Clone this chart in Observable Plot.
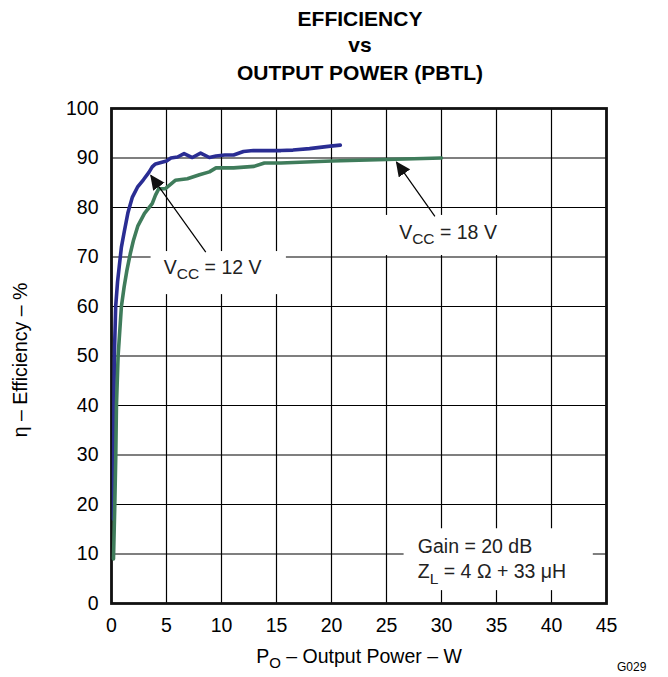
<!DOCTYPE html>
<html>
<head>
<meta charset="utf-8">
<script src="https://cdn.jsdelivr.net/npm/d3@7"></script>
<script src="https://cdn.jsdelivr.net/npm/@observablehq/plot@0.6"></script>
<style>
  html, body { margin: 0; padding: 0; background: white; }
  #wrap { position: relative; width: 668px; height: 677px; overflow: hidden; font-family: "Liberation Sans", Arial, sans-serif; color: black; }
  .t { position: absolute; white-space: nowrap; line-height: 1; }
  .title { left: 100px; width: 520px; text-align: center; font-weight: bold; font-size: 21px; }
  .sub { font-size: 15px; position: relative; top: 5px; }
</style>
</head>
<body>
<div id="wrap">
  <div class="t title" style="top:8px">EFFICIENCY</div>
  <div class="t title" style="top:34px">vs</div>
  <div class="t title" style="top:62px">OUTPUT POWER (PBTL)</div>
  <div class="t" style="left:359px; top:647px; transform:translateX(-50%); font-size:19.5px">P<span class="sub">O</span> – Output Power – W</div>
  <div class="t" style="left:21px; top:360px; transform:translate(-50%,-50%) rotate(-90deg); font-size:19.5px">η – Efficiency – %</div>
  <div class="t" style="left:617px; top:661px; font-size:12px">G029</div>
  <div id="chart"></div>
</div>
<script>
// ---- data ----
const xTicks = [0, 5, 10, 15, 20, 25, 30, 35, 40, 45];
const yTicks = [0, 10, 20, 30, 40, 50, 60, 70, 80, 90, 100];

// VCC = 12 V
const power12 = [0.18, 0.2, 0.22, 0.26, 0.38, 0.55, 0.7, 0.9, 1.15, 1.5, 1.9, 2.36, 2.9, 3.4, 3.7, 4.0, 4.5, 5.0, 5.4, 6.0, 6.6, 7.35, 8.1, 8.9, 9.5, 10.3, 11.1, 12.0, 12.9, 14.0, 15.4, 16.5, 18.0, 19.9, 20.8];
const eff12   = [17, 30, 40, 50, 60, 65, 68, 72, 75, 79, 82.1, 84.1, 85.6, 87.1, 88.2, 88.8, 89.1, 89.4, 90.0, 90.2, 90.9, 90.1, 91.0, 90.1, 90.4, 90.6, 90.6, 91.3, 91.5, 91.5, 91.5, 91.6, 91.9, 92.4, 92.6];

// VCC = 18 V
const power18 = [0.18, 0.3, 0.39, 0.45, 0.6, 0.9, 1.15, 1.4, 1.7, 2.0, 2.4, 3.0, 3.7, 4.0, 4.3, 4.9, 5.8, 6.9, 8.0, 8.9, 9.5, 11.1, 12.96, 13.9, 15.4, 20, 25, 30];
const eff18   = [9, 20, 30, 40, 50, 60, 64, 67.3, 70.6, 73.4, 76.3, 78.8, 80.8, 82.5, 83.8, 83.8, 85.5, 85.8, 86.6, 87.2, 88.0, 88.0, 88.3, 89.0, 89.0, 89.4, 89.7, 90.0];

const seriesNames = ["12 V", "18 V"];
const seriesColors = ["#2a2d93", "#3f7c5b"];

// annotations (data units)
const noteLabels = ["V_{CC} = 12 V", "V_{CC} = 18 V", "Gain = 20 dB", "Z_{L} = 4 Ω + 33 μH"];
const noteX      = [4.75, 26.15, 27.85, 27.85];
const noteY      = [66.6, 73.7, 10.2, 5.1];
const boxX1 = [3.6, 24.5, 26.6];
const boxX2 = [15.9, 35.8, 43.8];
const boxY1 = [62.4, 70.3, 2.6];
const boxY2 = [71.1, 78.4, 15.1];
const arrowTailX = [8.57, 29.4];
const arrowTailY = [71.0, 78.2];
const arrowTipX  = [3.57, 25.9];
const arrowTipY  = [86.5, 89.2];

// ---- tables ----
const lines = [
  ...power12.map((p, i) => ({series: seriesNames[0], p, e: eff12[i]})),
  ...power18.map((p, i) => ({series: seriesNames[1], p, e: eff18[i]}))
];
const notes = noteLabels.map((t, i) => ({t, x: noteX[i], y: noteY[i]}));
const boxes = boxX1.map((x1, i) => ({x1, x2: boxX2[i], y1: boxY1[i], y2: boxY2[i]}));
const arrows = arrowTailX.map((x1, i) => ({x1, y1: arrowTailY[i], x2: arrowTipX[i], y2: arrowTipY[i]}));

const FONT = "'Liberation Sans', Arial, sans-serif";

const svg = Plot.plot({
  width: 668,
  height: 677,
  marginLeft: 111,
  marginRight: 62,
  marginTop: 108,
  marginBottom: 74,
  style: {fontFamily: FONT, fontSize: "19.5px", color: "black", background: "transparent", overflow: "visible"},
  x: {domain: [0, 45], ticks: xTicks, tickSize: 0, tickPadding: 15, label: null, tickFormat: d => String(d)},
  y: {domain: [0, 100], ticks: yTicks, tickSize: 0, tickPadding: 13, label: null, tickFormat: d => String(d)},
  color: {domain: seriesNames, range: seriesColors},
  marks: [
    Plot.ruleX(xTicks, {stroke: "black", strokeWidth: 1.2, strokeOpacity: 1}),
    Plot.ruleY(yTicks, {stroke: "black", strokeWidth: 1.2, strokeOpacity: 1}),
    Plot.rect(boxes, {x1: "x1", x2: "x2", y1: "y1", y2: "y2", fill: "white"}),
    Plot.frame({stroke: "#111", strokeWidth: 2.8}),
    Plot.line(lines, {x: "p", y: "e", z: "series", stroke: "series", strokeWidth: 3.6, strokeLinejoin: "round", strokeLinecap: "round"}),
    Plot.link(arrows, {x1: "x1", y1: "y1", x2: "x2", y2: "y2", stroke: "black", strokeWidth: 1.2}),
    Plot.text(notes, {x: "x", y: "y", text: "t", textAnchor: "start", lineAnchor: "bottom", fontSize: 19.5, fill: "#222", fontFamily: FONT})
  ]
});

// arrowheads
const s = d3.select(svg);
const defs = s.insert("defs", ":first-child");
defs.append("marker")
  .attr("id", "ahead")
  .attr("markerUnits", "userSpaceOnUse")
  .attr("viewBox", "0 0 15 14")
  .attr("markerWidth", 15)
  .attr("markerHeight", 14)
  .attr("refX", 14)
  .attr("refY", 7)
  .attr("orient", "auto")
  .append("path")
  .attr("d", "M0,0 L15,7 L0,14 Z")
  .attr("fill", "#111");
s.selectAll('g[aria-label="link"] path').attr("marker-end", "url(#ahead)");

// subscripts in annotation text
s.selectAll("text").each(function () {
  const str = this.textContent;
  if (!str.includes("_{")) return;
  this.textContent = "";
  const parts = str.split(/(_\{[^}]*\})/).filter(Boolean);
  let shifted = false;
  for (const part of parts) {
    const m = part.match(/^_\{(.*)\}$/);
    const ts = document.createElementNS("http://www.w3.org/2000/svg", "tspan");
    if (m) {
      ts.textContent = m[1];
      ts.setAttribute("dy", "5.5");
      ts.setAttribute("font-size", "15.5");
      shifted = true;
    } else {
      ts.textContent = part;
      if (shifted) { ts.setAttribute("dy", "-5.5"); shifted = false; }
    }
    this.appendChild(ts);
  }
});

svg.style.position = "absolute";
svg.style.left = "0px";
svg.style.top = "0px";
document.getElementById("chart").appendChild(svg);
</script>
</body>
</html>
